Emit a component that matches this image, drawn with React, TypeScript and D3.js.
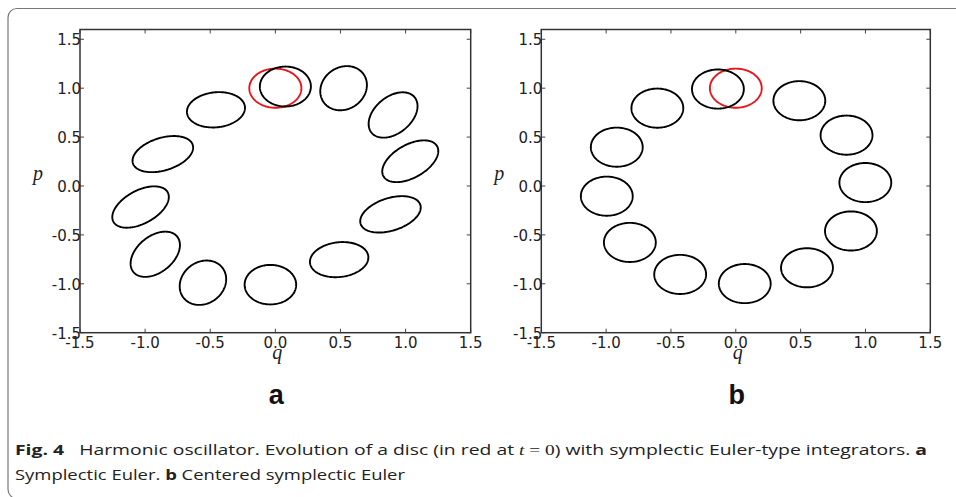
import React from 'react';
import * as d3 from 'd3';

// Axis ticks and limits
const qTicks = [-1.5, -1.0, -0.5, 0.0, 0.5, 1.0, 1.5];
const pTicks = [-1.5, -1.0, -0.5, 0.0, 0.5, 1.0, 1.5];
const qDomain = [-1.5, 1.5];
const pDomain = [-1.5, 1.6];
const discRadius = 0.2;

// Panel a (symplectic Euler): disc centres and image of the q-direction (index 0 = red disc at t = 0)
const aCenterQ = [0.0, 0.524, 0.904, 1.036, 0.884, 0.49, -0.038, -0.556, -0.922, -1.035, -0.864, -0.456, 0.077];
const aCenterP = [1.0, 1.0, 0.726, 0.253, -0.29, -0.753, -1.009, -0.989, -0.698, -0.215, 0.326, 0.779, 1.017];
const aAxisQ = [1.0, 0.726, 0.253, -0.29, -0.753, -1.009, -0.989, -0.698, -0.215, 0.326, 0.779, 1.017, 0.977];
const aAxisP = [0.0, -0.524, -0.904, -1.036, -0.884, -0.49, 0.038, 0.556, 0.922, 1.035, 0.864, 0.456, -0.077];

// Panel b (centered symplectic Euler): disc centres (index 0 = red disc at t = 0)
const bCenterQ = [0.0, 0.49, 0.854, 0.999, 0.888, 0.549, 0.069, -0.429, -0.817, -0.995, -0.918, -0.605, -0.138];
const bCenterP = [1.0, 0.872, 0.52, 0.035, -0.46, -0.836, -0.998, -0.904, -0.577, -0.104, 0.397, 0.796, 0.991];

type Disc = { cq: number; cp: number; uq: number; up: number; vq: number; vp: number };

const discsA: Disc[] = aCenterQ.map((cq, i) => ({
  cq, cp: aCenterP[i], uq: aAxisQ[i], up: aAxisP[i], vq: aCenterQ[i], vp: aCenterP[i],
}));
const discsB: Disc[] = bCenterQ.map((cq, i) => ({
  cq, cp: bCenterP[i], uq: 1, up: 0, vq: 0, vp: 1,
}));

const fmt = (v: number) => v.toFixed(1);
const angles = d3.range(0, 2 * Math.PI, (2 * Math.PI) / 160);

function Panel({ left, right, discs, label }: { left: number; right: number; discs: Disc[]; label: string }) {
  const top = 29.5;
  const bottom = 332.7;
  const x = d3.scaleLinear().domain(qDomain).range([left, right]);
  const y = d3.scaleLinear().domain(pDomain).range([bottom, top]);
  const line = d3
    .line<number>()
    .x((t) => 0)
    .y((t) => 0)
    .curve(d3.curveLinearClosed);
  const pathFor = (d: Disc) =>
    d3
      .line<number>()
      .x((t) => x(d.cq + discRadius * (d.uq * Math.cos(t) + d.vq * Math.sin(t))))
      .y((t) => y(d.cp + discRadius * (d.up * Math.cos(t) + d.vp * Math.sin(t))))
      .curve(d3.curveLinearClosed)(angles) || '';
  void line;
  const tickLen = 4;
  const tickColor = '#444';
  const labelFont = "'DejaVu Sans', sans-serif";
  const cx = x(0);
  return (
    <g>
      {/* ticks inside on all four sides */}
      {qTicks.map((v) => (
        <g key={'qt' + v}>
          <line x1={x(v)} x2={x(v)} y1={bottom} y2={bottom - tickLen} stroke={tickColor} strokeWidth={1} />
          <line x1={x(v)} x2={x(v)} y1={top} y2={top + tickLen} stroke={tickColor} strokeWidth={1} />
        </g>
      ))}
      {pTicks.map((v) => (
        <g key={'pt' + v}>
          <line x1={left} x2={left + tickLen} y1={y(v)} y2={y(v)} stroke={tickColor} strokeWidth={1} />
          <line x1={right} x2={right - tickLen} y1={y(v)} y2={y(v)} stroke={tickColor} strokeWidth={1} />
        </g>
      ))}
      {/* discs: red first, then black */}
      <path d={pathFor(discs[0])} fill="none" stroke="#e8161b" strokeWidth={1.9} />
      {discs.slice(1).map((d, i) => (
        <path key={i} d={pathFor(d)} fill="none" stroke="#000" strokeWidth={1.9} />
      ))}
      <rect x={left} y={top} width={right - left} height={bottom - top} fill="none" stroke="#333" strokeWidth={1.5} />
      {/* tick labels */}
      {pTicks.map((v) => (
        <text key={'pl' + v} x={left + 1} y={y(v) + 1} textAnchor="end" dominantBaseline="central"
          fontFamily={labelFont} fontSize={15} fill="#222">{fmt(v)}</text>
      ))}
      {qTicks.map((v) => (
        <text key={'ql' + v} x={x(v)} y={348} textAnchor="middle"
          fontFamily={labelFont} fontSize={15} fill="#222">{fmt(v)}</text>
      ))}
      {/* axis labels */}
      <text x={cx + 2} y={359} textAnchor="middle" fontFamily="'Liberation Serif', serif" fontStyle="italic" fontSize={20} fill="#222">q</text>
      <text x={left - 42} y={180} textAnchor="middle" fontFamily="'Liberation Serif', serif" fontStyle="italic" fontSize={20} fill="#222">p</text>
      {/* panel label */}
      <text x={cx + 1} y={404} textAnchor="middle" fontFamily="'Liberation Sans', Arial, sans-serif" fontWeight="bold" fontSize={27} fill="#111">{label}</text>
    </g>
  );
}

export default function App() {
  const capFont = "'Open Sans', 'Noto Sans', sans-serif";
  return (
    <svg width={956} height={497} style={{ position: 'absolute', left: 0, top: 0, background: '#fff' }}>
      <rect x={0} y={0} width={956} height={497} fill="#fff" />
      <rect x={8} y={8.5} width={1000} height={490} rx={9} ry={9} fill="none" stroke="#777" strokeWidth={1.2} />
      <Panel left={80} right={470.7} discs={discsA} label="a" />
      <Panel left={541.3} right={930.3} discs={discsB} label="b" />
      <text x={15} y={455} fontFamily={capFont} fontSize={15} fill="#222" textLength={912} lengthAdjust="spacingAndGlyphs" style={{ whiteSpace: 'pre' }}>
        <tspan fontWeight="bold">Fig. 4</tspan>
        <tspan>{'   Harmonic oscillator. Evolution of a disc (in red at '}</tspan>
        <tspan fontFamily="'Liberation Serif', serif" fontStyle="italic">t</tspan>
        <tspan fontFamily="'Liberation Serif', serif">{' = 0'}</tspan>
        <tspan>{') with symplectic Euler-type integrators. '}</tspan>
        <tspan fontWeight="bold">a</tspan>
      </text>
      <text x={15} y={480} fontFamily={capFont} fontSize={15} fill="#222" textLength={390} lengthAdjust="spacingAndGlyphs" style={{ whiteSpace: 'pre' }}>
        <tspan>{'Symplectic Euler. '}</tspan>
        <tspan fontWeight="bold">b</tspan>
        <tspan>{' Centered symplectic Euler'}</tspan>
      </text>
    </svg>
  );
}
